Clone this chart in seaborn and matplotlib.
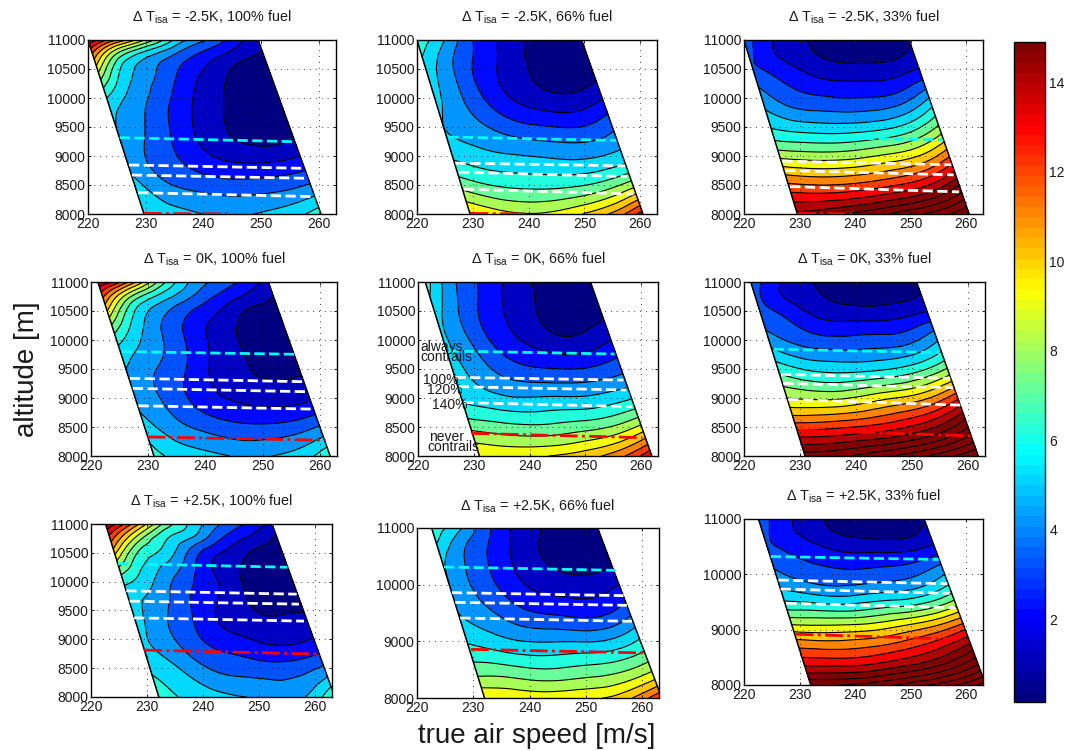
import numpy as np
import pandas as pd
import matplotlib
matplotlib.use("Agg")
import matplotlib.pyplot as plt
import matplotlib.tri as mtri
from matplotlib.colors import LinearSegmentedColormap
import seaborn as sns

sns.set_style("ticks")
plt.rcParams['font.family'] = ['Liberation Sans', 'DejaVu Sans']
plt.rcParams['mathtext.fontset'] = 'custom'
plt.rcParams['mathtext.rm'] = 'Liberation Sans'
plt.rcParams['mathtext.default'] = 'rm'

# values, rows are altitudes, columns go from the left edge
# of the flight envelope to its right edge
altitudes = [8000, 8500, 9000, 9500, 10000, 10500, 10750, 11000]
fractions = [0, 1/6, 2/6, 3/6, 4/6, 5/6, 1]

z_m25_100 = [[6.0, 5.4, 5.0, 4.9, 5.1, 5.6, 6.6],
             [5.4, 4.2, 3.7, 3.4, 3.4, 3.6, 4.1],
             [4.7, 3.7, 2.8, 2.0, 1.6, 1.6, 2.0],
             [5.0, 4.0, 2.8, 1.65, 0.85, 0.35, 0.6],
             [6.0, 4.5, 3.3, 2.0, 1.05, 0.4, 0.3],
             [9.5, 5.5, 4.1, 2.8, 1.7, 0.7, 0.5],
             [11.8, 7.3, 5.2, 3.8, 2.6, 1.6, 0.85],
             [14.9, 12.0, 9.0, 6.0, 4.2, 2.7, 1.5]]
z_m25_66 = [[10.2, 9.4, 9.05, 9.3, 10.1, 11.3, 13.6],
            [7.6, 7.0, 6.75, 6.7, 6.85, 7.4, 8.6],
            [5.8, 5.35, 5.1, 4.95, 4.8, 4.9, 5.4],
            [5.0, 4.4, 3.7, 3.2, 3.0, 3.05, 3.8],
            [5.3, 4.0, 2.7, 1.8, 1.3, 1.25, 1.9],
            [5.6, 4.0, 2.6, 1.6, 0.75, 0.35, 0.75],
            [6.1, 4.3, 2.85, 1.75, 0.75, 0.3, 0.6],
            [6.6, 5.0, 3.05, 1.95, 0.85, 0.3, 0.55]]
z_m25_33 = [[15.2, 15.6, 16.2, 16.9, 17.7, 18.6, 20.0],
            [12.2, 12.0, 12.1, 12.5, 13.1, 14.1, 16.0],
            [8.7, 8.5, 8.5, 8.8, 9.3, 10.1, 11.9],
            [5.9, 5.5, 5.35, 5.4, 5.7, 6.5, 8.2],
            [4.5, 3.5, 3.15, 3.0, 3.05, 3.5, 5.0],
            [3.2, 2.5, 1.75, 1.35, 1.3, 1.45, 2.05],
            [3.3, 2.0, 1.3, 0.75, 0.6, 0.7, 1.3],
            [3.5, 2.1, 1.2, 0.6, 0.3, 0.35, 0.8]]
z_0_100 = [[6.3, 5.6, 5.2, 4.9, 5.0, 5.5, 6.9],
           [5.5, 4.4, 3.75, 3.3, 3.2, 3.4, 4.1],
           [4.7, 3.85, 2.8, 2.05, 1.65, 1.55, 1.85],
           [5.0, 4.05, 3.1, 1.85, 1.1, 0.85, 0.85],
           [6.4, 4.8, 3.5, 2.2, 1.2, 0.5, 0.35],
           [10.0, 5.9, 4.2, 2.95, 1.9, 0.85, 0.75],
           [12.2, 8.0, 5.7, 4.2, 2.9, 1.85, 0.95],
           [15.0, 12.3, 8.3, 5.4, 3.9, 2.9, 1.7]]
z_0_66 = [[10.0, 9.8, 9.9, 10.2, 10.8, 11.9, 14.0],
          [7.7, 7.4, 7.2, 7.3, 7.6, 8.1, 9.3],
          [5.8, 5.35, 5.05, 5.1, 5.1, 5.35, 5.9],
          [5.4, 4.4, 3.5, 3.1, 3.0, 3.15, 3.7],
          [5.2, 3.9, 2.6, 1.85, 1.25, 1.3, 2.0],
          [5.5, 3.8, 2.5, 1.55, 0.75, 0.4, 0.8],
          [6.0, 4.0, 2.7, 1.6, 0.85, 0.3, 0.6],
          [6.5, 4.2, 2.9, 1.8, 0.9, 0.3, 0.5]]
z_0_33 = [[16.5, 16.7, 17.3, 18.0, 18.8, 19.8, 21.0],
          [12.6, 12.7, 13.0, 13.4, 14.1, 15.2, 17.0],
          [9.0, 8.8, 8.9, 9.5, 10.1, 11.0, 12.8],
          [6.6, 5.9, 5.65, 5.7, 6.0, 6.7, 8.1],
          [4.5, 3.7, 3.3, 3.3, 3.4, 3.7, 4.9],
          [3.3, 2.6, 1.7, 1.35, 1.3, 1.5, 1.95],
          [3.3, 2.0, 1.3, 0.75, 0.6, 0.7, 1.1],
          [3.6, 2.1, 1.15, 0.55, 0.3, 0.3, 0.7]]
z_p25_100 = [[6.4, 5.8, 5.3, 5.0, 4.85, 5.0, 7.2],
             [5.8, 5.0, 4.0, 3.6, 3.4, 3.5, 4.2],
             [5.2, 4.2, 3.1, 2.4, 1.9, 1.7, 2.1],
             [5.4, 4.3, 3.1, 1.9, 1.1, 0.9, 0.95],
             [6.3, 5.1, 3.6, 2.4, 1.2, 0.4, 0.3],
             [10.3, 6.6, 5.3, 3.1, 1.8, 0.85, 0.7],
             [12.5, 8.5, 6.1, 4.8, 3.0, 1.8, 0.8],
             [15.0, 11.8, 8.1, 5.9, 4.2, 3.0, 1.8]]
z_p25_66 = [[10.0, 9.8, 9.6, 9.8, 10.0, 11.0, 13.0],
            [7.5, 7.4, 7.1, 7.15, 7.4, 7.8, 8.8],
            [5.9, 5.4, 5.0, 4.95, 4.95, 5.2, 6.2],
            [5.0, 4.25, 3.4, 2.95, 2.75, 2.8, 3.8],
            [5.0, 3.7, 2.65, 1.8, 1.5, 1.45, 2.0],
            [5.3, 3.8, 2.6, 1.5, 0.7, 0.35, 0.65],
            [6.1, 4.2, 2.85, 1.6, 0.75, 0.3, 0.6],
            [6.5, 5.2, 3.25, 1.85, 0.95, 0.3, 0.6]]
z_p25_33 = [[16.9, 17.0, 17.4, 18.1, 19.0, 20.0, 21.5],
            [13.0, 12.9, 13.0, 13.5, 14.2, 15.3, 17.0],
            [9.7, 9.6, 9.7, 10.0, 10.7, 11.6, 13.0],
            [6.1, 5.9, 5.7, 6.0, 6.3, 6.9, 8.3],
            [4.2, 3.6, 3.3, 3.3, 3.5, 3.9, 5.0],
            [3.2, 2.6, 2.0, 1.6, 1.55, 1.6, 2.2],
            [3.3, 2.2, 1.4, 0.85, 0.65, 0.7, 1.4],
            [3.6, 2.25, 1.3, 0.6, 0.3, 0.3, 0.85]]

# envelope edges: speed at 8000 m and at 11000 m
left_edges = [[229.7, 220.0], [229.5, 220.0], [229.6, 220.0],
              [231.0, 221.2], [231.0, 221.3], [230.9, 221.2],
              [232.1, 222.6], [232.0, 222.6], [232.0, 222.6]]
right_edges = [[260.4, 249.5], [260.5, 249.5], [260.5, 249.7],
               [261.8, 251.0], [261.9, 250.9], [261.8, 250.8],
               [263.5, 252.3], [263.5, 252.1], [263.5, 252.4]]

# contrail limits: speed start, speed end, alt start, alt end
# order is always contrails, 100%, 120%, 140%, never contrails
lines_m25_100 = [[225.5, 255.9, 9316, 9247], [227.1, 257.6, 8845, 8787], [227.6, 258.2, 8672, 8615],
                 [228.7, 259.4, 8368, 8299], [229.7, 245.0, 8010, 8000]]
lines_m25_66 = [[225.6, 255.7, 9327, 9269], [226.9, 257.3, 8877, 8831], [227.5, 257.6, 8721, 8646],
                [228.4, 258.8, 8427, 8346], [229.6, 240.2, 8010, 8000]]
lines_m25_33 = [[225.7, 255.7, 9327, 9281], [226.9, 257.3, 8912, 8848], [227.4, 257.7, 8750, 8675],
                [228.3, 258.7, 8473, 8381], [229.7, 240.0, 8010, 8000]]
lines_0_100 = [[225.4, 255.5, 9800, 9754], [226.8, 257.2, 9339, 9281], [227.3, 257.9, 9166, 9108],
               [228.3, 259.0, 8866, 8808], [229.9, 261.0, 8329, 8271]]
lines_0_66 = [[225.5, 255.2, 9810, 9759], [226.7, 256.8, 9356, 9310], [227.3, 257.3, 9195, 9138],
              [228.2, 258.4, 8920, 8851], [229.6, 260.2, 8391, 8316]]
lines_0_33 = [[225.3, 254.9, 9841, 9783], [226.6, 256.8, 9408, 9339], [227.0, 257.3, 9252, 9177],
              [227.9, 258.6, 8975, 8877], [229.7, 260.6, 8444, 8346]]
lines_p25_100 = [[224.8, 255.0, 10314, 10250], [226.3, 256.7, 9841, 9783], [226.9, 257.1, 9662, 9610],
                 [227.7, 258.0, 9373, 9316], [229.5, 260.7, 8814, 8744]]
lines_p25_66 = [[224.8, 255.3, 10312, 10253], [226.2, 256.7, 9859, 9806], [226.8, 257.3, 9688, 9635],
                [227.7, 258.2, 9412, 9353], [229.6, 260.7, 8859, 8794]]
lines_p25_33 = [[224.8, 255.0, 10322, 10268], [226.2, 256.6, 9896, 9830], [226.6, 257.0, 9734, 9656],
                [227.6, 258.0, 9476, 9398], [229.3, 258.5, 8918, 8828]]

fields = [z_m25_100, z_m25_66, z_m25_33, z_0_100, z_0_66, z_0_33, z_p25_100, z_p25_66, z_p25_33]
contrails = [lines_m25_100, lines_m25_66, lines_m25_33, lines_0_100, lines_0_66, lines_0_33,
             lines_p25_100, lines_p25_66, lines_p25_33]
temps = ['-2.5K', '0K', '+2.5K']
fuels = ['100%', '66%', '33%']

xtick_vals = [220, 230, 240, 250, 260]
ytick_vals = [8000, 8500, 9000, 9500, 10000, 10500, 11000]
ytick_coarse = [8000, 9000, 10000, 11000]
cbar_ticks = [2, 4, 6, 8, 10, 12, 14]

# axes boxes in pixels: left, top, right, bottom, title centre y
W, H = 1071, 751
boxes = [(88, 40, 336, 214, 17), (417, 40, 657, 214, 17), (744, 40, 983, 214, 17),
         (91, 282, 337, 456, 259), (418, 282, 658, 456, 259), (744, 282, 985, 456, 259),
         (91, 524, 332, 697, 501), (417, 528, 659, 698, 506), (744, 519, 983, 685, 496)]

# the picture uses the older jet, not matplotlib's one
jet = LinearSegmentedColormap.from_list('old_jet', [(0, (0, 0, 0.5)), (0.125, (0, 0, 1)), (0.375, (0, 1, 1)),
                                                    (0.625, (1, 1, 0)), (0.875, (1, 0, 0)), (1, (0.5, 0, 0))])
levels = np.arange(0, 26)
band_colors = [jet(min(k / 14.75, 1.0)) for k in levels[:-1]]
line_colors = ['cyan', 'white', 'white', 'white', 'red']
line_styles = ['--', '--', '--', '--', '-.']


def to_axes(box):
    l, t, r, b = box[:4]
    return [l / W, 1 - b / H, (r - l) / W, (b - t) / H]


def grid_triangles(nrow, ncol):
    out = []
    for r in range(nrow - 1):
        for c in range(ncol - 1):
            a = r * ncol + c
            out.append([a, a + 1, a + ncol])
            out.append([a + 1, a + ncol + 1, a + ncol])
    return out


fig = plt.figure(figsize=(W / 100, H / 100), dpi=100)

for i in range(9):
    ax = fig.add_axes(to_axes(boxes[i]))
    alt = np.array(altitudes, dtype=float)
    frac = np.array(fractions)
    lo = np.interp(alt, [8000, 11000], left_edges[i])
    hi = np.interp(alt, [8000, 11000], right_edges[i])
    X = lo[:, None] + frac[None, :] * (hi - lo)[:, None]
    Y = np.repeat(alt[:, None], len(frac), axis=1)
    Z = np.array(fields[i])
    # matplotlib's own refiner rounds the contours off between the read values
    tri = mtri.Triangulation(X.ravel(), Y.ravel(), grid_triangles(len(alt), len(frac)))
    tri_f, z_f = mtri.UniformTriRefiner(tri).refine_field(Z.ravel(), subdiv=3)
    ax.tricontourf(tri_f, z_f, levels=levels, colors=band_colors, zorder=1)
    ax.tricontour(tri_f, z_f, levels=levels, colors='k', linewidths=0.8, linestyles='solid', zorder=2)
    ax.plot(left_edges[i], [8000, 11000], color='k', lw=1.1, zorder=3)
    ax.plot(right_edges[i], [8000, 11000], color='k', lw=1.1, zorder=3)

    for row, c, ls in zip(contrails[i], line_colors, line_styles):
        df = pd.DataFrame({'speed': row[:2], 'alt': row[2:]})
        sns.lineplot(data=df, x='speed', y='alt', ax=ax, color=c, linestyle=ls, lw=2.0,
                     sort=False, errorbar=None, zorder=4)

    ax.set_xlim(220, 263)
    ax.set_ylim(8000, 11000)
    ax.set_xticks(xtick_vals)
    ax.set_yticks(ytick_coarse if i in (7, 8) else ytick_vals)
    ax.set_xlabel('')
    ax.set_ylabel('')
    ax.grid(True, color='k', lw=0.6, linestyle=(0, (1, 6)), zorder=5)
    ax.set_axisbelow(False)
    ax.tick_params(direction='in', length=2.5, width=0.7, top=True, right=True,
                   labelsize=10, pad=2, colors='#1a1a1a')
    for s in ax.spines.values():
        s.set_linewidth(1.0)
        s.set_color('k')
    title = 'Δ T$_{\\mathrm{isa}}$ = ' + temps[i // 3] + ', ' + fuels[i % 3] + ' fuel'
    cx = (boxes[i][0] + boxes[i][2]) / 2
    fig.text(cx / W, 1 - boxes[i][4] / H, title, ha='center', va='center', fontsize=10.4, color='#1a1a1a')

    if i == 4:
        notes = [(220.4, 9885, 'always'), (220.4, 9701, 'contrails'), (220.9, 9310, '100%'),
                 (221.6, 9138, '120%'), (222.5, 8880, '140%'), (221.9, 8322, 'never'),
                 (221.6, 8160, 'contrails')]
        for nx, ny, txt in notes:
            ax.text(nx, ny, txt, fontsize=10, color='#1a1a1a', ha='left', va='center', zorder=6)

cax = fig.add_axes(to_axes((1014, 42, 1045, 702)))
sm = plt.cm.ScalarMappable(norm=plt.Normalize(0.15, 14.9), cmap=jet.resampled(64))
cb = fig.colorbar(sm, cax=cax)
cb.set_ticks(cbar_ticks)
cb.ax.tick_params(direction='in', length=3.5, width=0.8, left=True, right=True,
                  labelsize=10, pad=3, colors='#1a1a1a')
cb.outline.set_linewidth(1.0)
cb.outline.set_edgecolor('k')

fig.text(27 / W, 1 - 369 / H, 'altitude [m]', rotation=90, ha='center', va='center', fontsize=20, color='#1a1a1a')
fig.text(537 / W, 1 - 736 / H, 'true air speed [m/s]', ha='center', va='center', fontsize=20, color='#1a1a1a')

fig.savefig('out.png', dpi=100)
